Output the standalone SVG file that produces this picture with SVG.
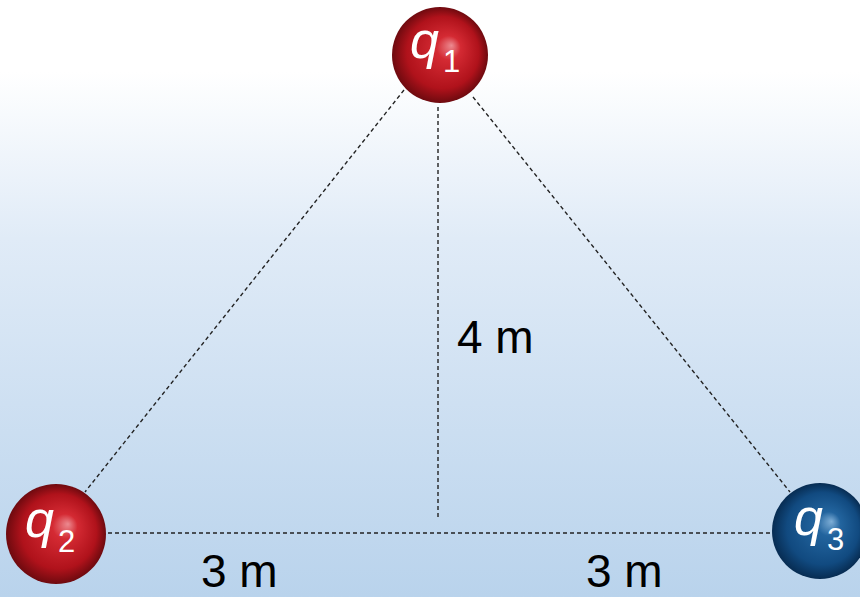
<svg xmlns="http://www.w3.org/2000/svg" width="860" height="597" viewBox="0 0 860 597">
<defs>
<linearGradient id="bg" x1="0" y1="0" x2="0" y2="1">
<stop offset="0" stop-color="#ffffff"/>
<stop offset="0.12" stop-color="#ffffff"/>
<stop offset="0.4" stop-color="#e0ebf7"/>
<stop offset="1" stop-color="#b9d3ec"/>
</linearGradient>
<radialGradient id="red" cx="0.5" cy="0.5" r="0.5" fx="0.62" fy="0.4">
<stop offset="0" stop-color="#ec8a90"/>
<stop offset="0.25" stop-color="#d42a33"/>
<stop offset="0.75" stop-color="#b0121b"/>
<stop offset="1" stop-color="#6e0a0f"/>
</radialGradient>
<radialGradient id="blue" cx="0.5" cy="0.5" r="0.5" fx="0.62" fy="0.4">
<stop offset="0" stop-color="#7eaed6"/>
<stop offset="0.25" stop-color="#22649e"/>
<stop offset="0.75" stop-color="#114a80"/>
<stop offset="1" stop-color="#072c52"/>
</radialGradient>
<style>
.dash{stroke:#222;stroke-width:1.4;stroke-dasharray:4 3;fill:none}
.q{font-family:"Liberation Sans",Arial,sans-serif;fill:#fff;font-style:italic}
.sub{font-family:"Liberation Sans",Arial,sans-serif;fill:#fff}
.lbl{font-family:"Liberation Sans",Arial,sans-serif;fill:#000;font-size:46px}
</style>
</defs>
<rect width="860" height="597" fill="url(#bg)"/>
<g id="connectors">
<line class="dash" x1="404" y1="90" x2="85" y2="492"/>
<line class="dash" x1="473" y1="97" x2="790" y2="492"/>
<line class="dash" x1="438" y1="107" x2="438" y2="517"/>
<line class="dash" x1="108" y1="533" x2="772" y2="533"/>
</g>
<g id="q1">
<circle cx="440" cy="55" r="48" fill="url(#red)"/>
<text class="q" x="410" y="58" font-size="52">q</text>
<text class="sub" x="443" y="72" font-size="31">1</text>
</g>
<g id="q2">
<circle cx="56" cy="534" r="50" fill="url(#red)"/>
<text class="q" x="25" y="537" font-size="52">q</text>
<text class="sub" x="58" y="552" font-size="31">2</text>
</g>
<g id="q3">
<circle cx="820" cy="531" r="48" fill="url(#blue)"/>
<text class="q" x="794" y="535" font-size="52">q</text>
<text class="sub" x="827" y="550" font-size="31">3</text>
</g>
<g id="labels">
<text class="lbl" x="457" y="353">4 m</text>
<text class="lbl" x="201" y="587">3 m</text>
<text class="lbl" x="586" y="587">3 m</text>
</g>
</svg>
